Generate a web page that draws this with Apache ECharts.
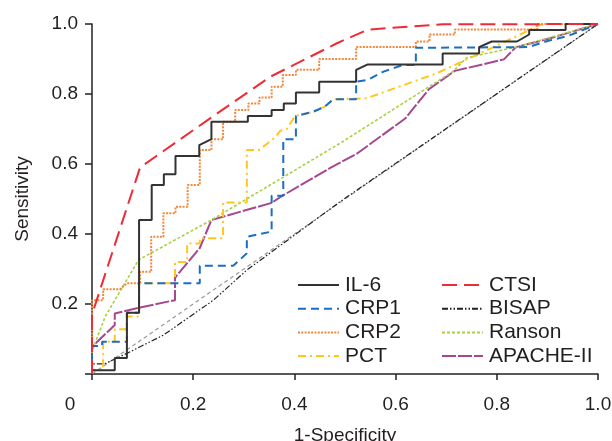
<!DOCTYPE html>
<html>
<head>
<meta charset="utf-8">
<script src="https://cdn.jsdelivr.net/npm/echarts@6/dist/echarts.min.js"></script>
<style>html,body{margin:0;padding:0;background:#fff}#c{width:612px;height:441px}</style>
</head>
<body>
<div id="c"></div>
<script>
// ---- data ----
const xTickLabels = ['0', '0.2', '0.4', '0.6', '0.8', '1.0'];
const yTickLabels = ['', '0.2', '0.4', '0.6', '0.8', '1.0'];
const seriesNames = ['IL-6', 'CRP1', 'CRP2', 'PCT', 'CTSI', 'BISAP', 'Ranson', 'APACHE-II'];

const il6 = [[0,0],[0,0.011],[0.045,0.011],[0.045,0.046],[0.069,0.046],[0.069,0.175],[0.093,0.175],[0.093,0.44],[0.118,0.44],[0.118,0.54],[0.142,0.54],[0.142,0.571],[0.165,0.571],[0.165,0.623],[0.212,0.623],[0.212,0.654],[0.236,0.671],[0.236,0.721],[0.308,0.721],[0.308,0.737],[0.355,0.737],[0.355,0.754],[0.379,0.754],[0.379,0.773],[0.403,0.773],[0.403,0.804],[0.449,0.804],[0.449,0.835],[0.522,0.835],[0.522,0.869],[0.544,0.884],[0.693,0.884],[0.693,0.916],[0.765,0.916],[0.765,0.934],[0.79,0.95],[0.84,0.95],[0.864,0.97],[0.864,0.983],[0.936,0.983],[0.936,1],[1,1]];
const crp1 = [[0,0],[0,0.08],[0.02,0.08],[0.02,0.092],[0.069,0.092],[0.069,0.175],[0.093,0.175],[0.093,0.259],[0.213,0.259],[0.213,0.309],[0.279,0.309],[0.306,0.345],[0.306,0.392],[0.355,0.407],[0.355,0.509],[0.378,0.509],[0.378,0.671],[0.403,0.671],[0.403,0.737],[0.437,0.749],[0.46,0.764],[0.477,0.785],[0.522,0.785],[0.522,0.835],[0.545,0.84],[0.576,0.864],[0.615,0.883],[0.64,0.883],[0.64,0.932],[0.862,0.934],[0.902,0.952],[0.943,0.967],[1,1]];
const crp2 = [[0,0],[0,0.211],[0.022,0.211],[0.022,0.242],[0.055,0.242],[0.069,0.259],[0.095,0.259],[0.095,0.292],[0.117,0.292],[0.117,0.392],[0.141,0.392],[0.141,0.459],[0.165,0.459],[0.165,0.478],[0.189,0.478],[0.189,0.54],[0.213,0.54],[0.213,0.64],[0.236,0.64],[0.236,0.671],[0.259,0.671],[0.259,0.721],[0.283,0.721],[0.283,0.754],[0.309,0.754],[0.309,0.773],[0.331,0.773],[0.331,0.79],[0.355,0.79],[0.355,0.821],[0.377,0.821],[0.377,0.854],[0.403,0.854],[0.403,0.869],[0.449,0.869],[0.449,0.9],[0.522,0.9],[0.522,0.934],[0.64,0.934],[0.64,0.95],[0.667,0.95],[0.667,0.97],[0.717,0.97],[0.717,0.984],[0.88,0.984],[0.88,1],[1,1]];
const pct = [[0,0],[0,0.011],[0.022,0.011],[0.022,0.092],[0.045,0.092],[0.045,0.128],[0.069,0.128],[0.069,0.164],[0.093,0.164],[0.093,0.259],[0.164,0.259],[0.164,0.32],[0.188,0.32],[0.188,0.373],[0.213,0.373],[0.213,0.388],[0.259,0.388],[0.259,0.49],[0.306,0.49],[0.306,0.64],[0.33,0.64],[0.362,0.676],[0.372,0.695],[0.385,0.7],[0.401,0.737],[0.437,0.749],[0.46,0.764],[0.477,0.785],[0.543,0.788],[0.681,0.859],[0.807,0.943],[0.862,0.981],[0.88,0.996],[0.9,1],[1,1]];
const ctsi = [[0,0],[0,0.17],[0.095,0.59],[0.227,0.724],[0.352,0.849],[0.484,0.945],[0.545,0.984],[0.693,0.999],[1,1]];
const bisap = [[0,0],[0,0.029],[0.025,0.029],[0.069,0.059],[0.141,0.111],[0.24,0.211],[0.306,0.297],[0.49,0.492],[1,1]];
const ranson = [[0,0],[0,0.065],[0.026,0.164],[0.092,0.326],[0.236,0.44],[0.49,0.659],[0.713,0.864],[0.74,0.903],[0.77,0.913],[0.838,0.934],[1,1]];
const apache = [[0,0],[0,0.078],[0.045,0.14],[0.045,0.173],[0.095,0.19],[0.164,0.211],[0.164,0.275],[0.213,0.36],[0.236,0.44],[0.355,0.489],[0.375,0.508],[0.47,0.588],[0.524,0.63],[0.619,0.73],[0.666,0.814],[0.717,0.866],[0.814,0.899],[0.838,0.934],[0.9,0.957],[1,1]];
const diagonal = [[0,0],[1,1]];

const FONT = 'Liberation Sans, Arial, Helvetica, sans-serif';
const TXT = '#231f20';

function line(name, data, color, width, type, z) {
  return {
    name: name, type: 'line', data: data, symbol: 'none', z: z || 2,
    animation: false, silent: true,
    lineStyle: { color: color, width: width, type: type, cap: 'butt' },
    itemStyle: { color: color }
  };
}

const series = [
  line('ref', diagonal, '#9a9a9a', 1.2, [4, 3], 1),
  line('APACHE-II', apache, '#a5488f', 2, [14, 2]),
  line('Ranson', ranson, '#a8d044', 1.6, [3, 2]),
  line('BISAP', bisap, '#222222', 1.2, [6, 2, 1.5, 2, 1.5, 2]),
  line('PCT', pct, '#ffc61c', 2, [8, 4, 2, 4]),
  line('CRP2', crp2, '#f2883c', 2, [2, 1.3]),
  line('CRP1', crp1, '#1b6ec2', 2, [8, 5]),
  line('IL-6', il6, '#333333', 2, 'solid'),
  line('CTSI', ctsi, '#ee2b36', 2, [15, 7])
];

const legendCommon = {
  orient: 'vertical', top: 269, itemWidth: 41, itemHeight: 14, itemGap: 1.7,
  itemStyle: { opacity: 0, borderWidth: 0 },
  textStyle: { fontFamily: FONT, fontSize: 21, color: TXT, lineHeight: 22, padding: [0, 0, 0, 1] },
  selectedMode: false
};

const chart = echarts.init(document.getElementById('c'), null, { renderer: 'canvas' });
chart.setOption({
  backgroundColor: '#fff',
  animation: false,
  grid: { left: 92, right: 14, top: 24, bottom: 67, containLabel: false, outerBoundsMode: 'none' },
  xAxis: {
    type: 'value', min: 0, max: 1, interval: 0.2,
    name: '1-Specificity', nameLocation: 'middle', nameGap: 52,
    nameTextStyle: { fontFamily: FONT, fontSize: 19, color: TXT },
    axisLine: { show: true, onZero: false, lineStyle: { color: '#222', width: 1.5 } },
    axisTick: { show: true, inside: false, length: 6, lineStyle: { color: '#222', width: 1.5 } },
    axisLabel: {
      fontFamily: FONT, fontSize: 19, color: TXT, margin: 21,
      formatter: function (v, i) { const s = xTickLabels[Math.round(v / 0.2)]; return v === 0 ? '{o|' + s + '}' : s; },
      rich: { o: { fontFamily: FONT, fontSize: 19, color: TXT, padding: [0, 44, 0, 0] } }
    },
    splitLine: { show: false }
  },
  yAxis: {
    type: 'value', min: 0, max: 1, interval: 0.2,
    name: 'Sensitivity', nameLocation: 'middle', nameGap: 60, nameRotate: 90,
    nameTextStyle: { fontFamily: FONT, fontSize: 19, color: TXT },
    axisLine: { show: true, onZero: false, lineStyle: { color: '#222', width: 1.5 } },
    axisTick: { show: true, inside: false, length: 7, lineStyle: { color: '#222', width: 1.5 } },
    axisLabel: {
      fontFamily: FONT, fontSize: 19, color: TXT, margin: 14,
      formatter: function (v) { return yTickLabels[Math.round(v / 0.2)]; }
    },
    splitLine: { show: false }
  },
  legend: [
    Object.assign({}, legendCommon, { left: 292, data: seriesNames.slice(0, 4) }),
    Object.assign({}, legendCommon, { left: 436, data: seriesNames.slice(4, 8) })
  ],
  series: series
});
</script>
</body>
</html>
